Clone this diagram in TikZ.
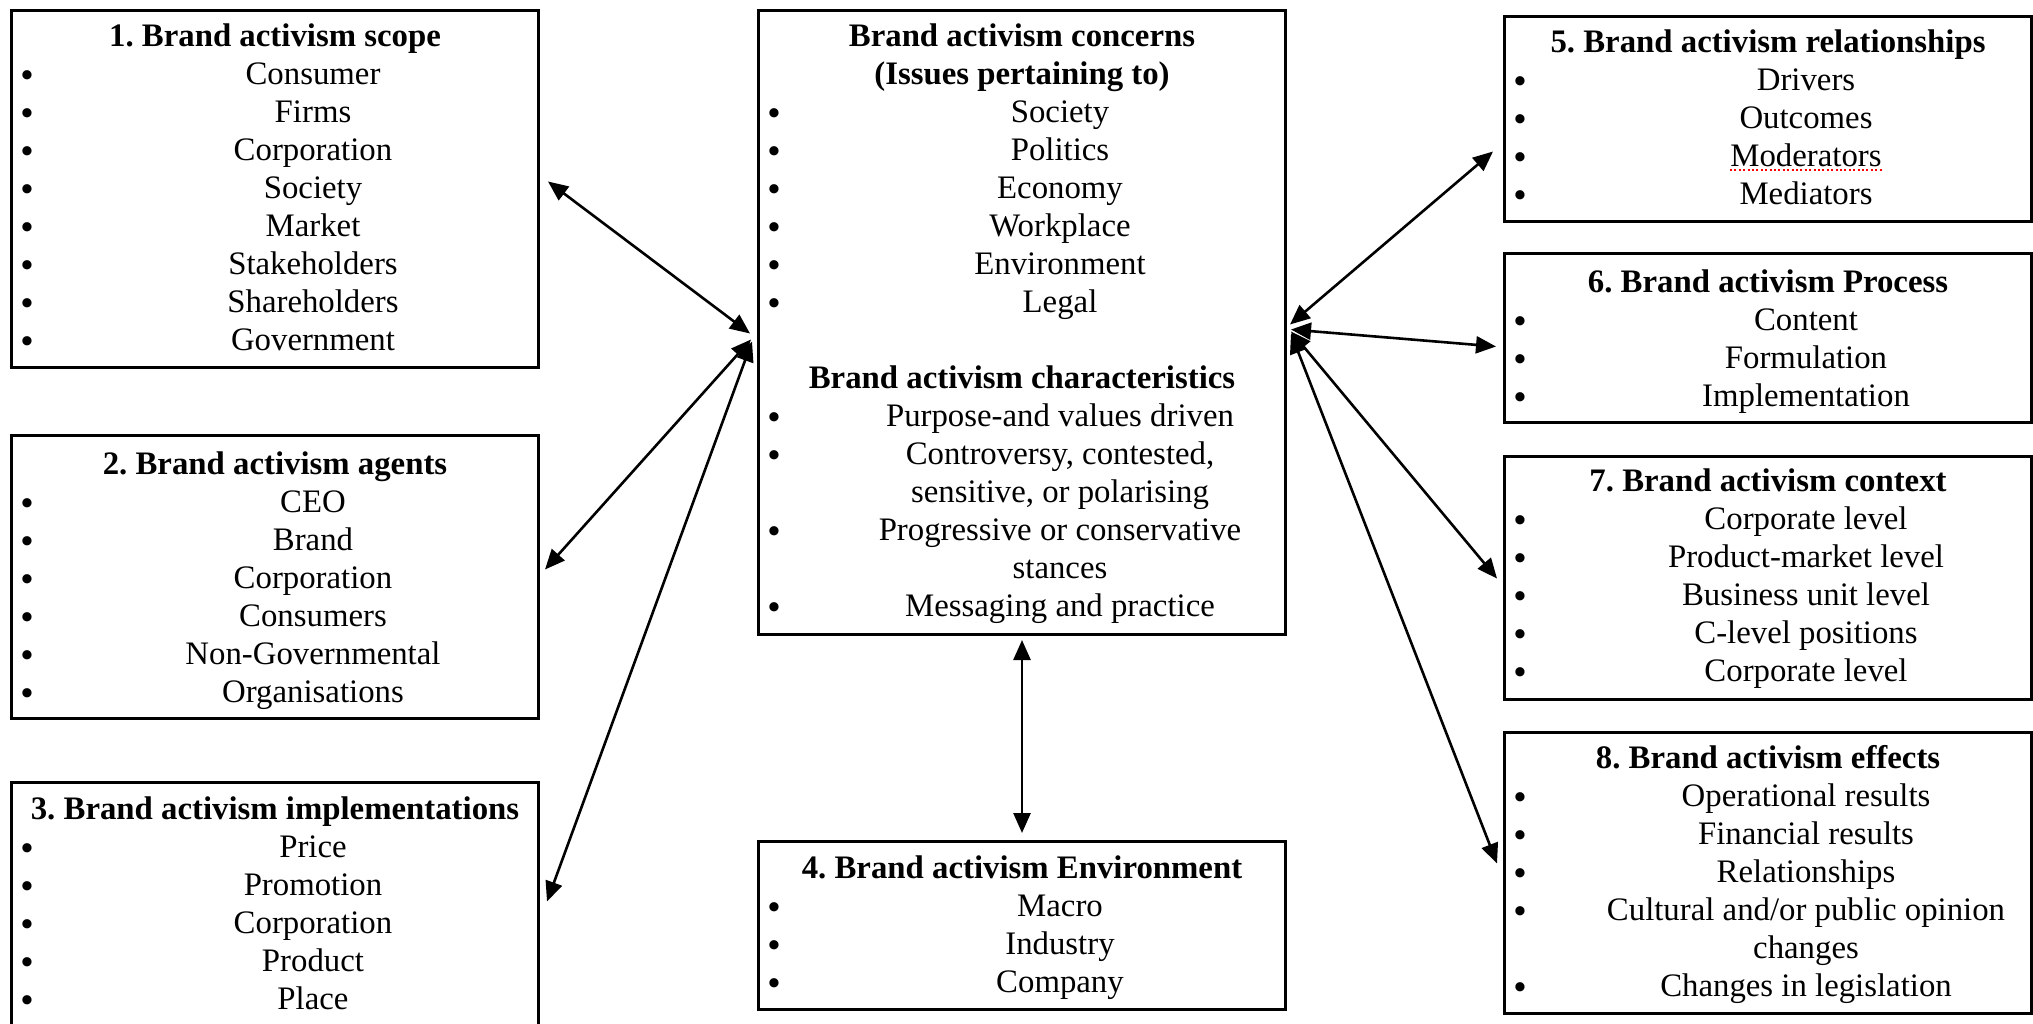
\documentclass[tikz,border=0pt]{standalone}
\usepackage{fontspec}
\setmainfont{Liberation Serif}
\usetikzlibrary{arrows.meta,calc}

\tikzset{
  panel/.style={draw=black, line width=1.5pt, rectangle, inner sep=0pt, anchor=north west},
  head/.style={font=\fontsize{16.4}{19}\selectfont\bfseries\frenchspacing, anchor=base, inner sep=0pt},
  entry/.style={font=\fontsize{16.4}{19}\selectfont, anchor=base, inner sep=0pt},
  dot/.style={font=\fontsize{17}{19}\selectfont\bfseries, anchor=base, inner sep=0pt},
  link/.style={line width=1.3pt, {Triangle[length=10pt,width=8.5pt]}-{Triangle[length=10pt,width=8.5pt]}},
  squiggle/.style={red, line width=0.8pt, dash pattern=on 1pt off 1.2pt},
}

% heading line of a panel: name, panel, offset of the line from the panel top, text
\newcommand\panelhead[4]{\node[head] (#1) at ($(#2.north)+(0,#3+10)$) {#4};}
% list line without bullet: name, panel, offset, text
\newcommand\panelline[4]{\node[entry] (#1) at ($(#2.north west)+(303,#3+10)$) {#4};}
% bulleted list line: name, panel, offset, text
\newcommand\panelitem[4]{%
  \node[dot] (#1-dot) at ($(#2.north west)+(17,#3+12)$) {•};
  \node[entry] (#1) at ($(#2.north west)+(303,#3+10)$) {#4};}

\begin{document}
\begin{tikzpicture}[x=0.5pt,y=-0.5pt]
\useasboundingbox (0,0) rectangle (2033,1023);
\clip (0,0) rectangle (2033,1023);

% ---------- panels ----------
\node[panel, minimum width=263.5pt, minimum height=178.5pt] (b1) at (10,9) {};
\node[panel, minimum width=263.5pt, minimum height=141.5pt] (b2) at (10,434) {};
\node[panel, minimum width=263.5pt, minimum height=129.5pt] (b3) at (10,781) {};
\node[panel, minimum width=263.5pt, minimum height=312pt]   (c)  at (757,9) {};
\node[panel, minimum width=263.5pt, minimum height=84pt]    (b4) at (757,840) {};
\node[panel, minimum width=263.5pt, minimum height=102.5pt] (b5) at (1503,15) {};
\node[panel, minimum width=263.5pt, minimum height=84.5pt]  (b6) at (1503,252) {};
\node[panel, minimum width=263.5pt, minimum height=121.5pt] (b7) at (1503,455) {};
\node[panel, minimum width=263.5pt, minimum height=140.5pt] (b8) at (1503,731) {};

% ---------- 1. scope ----------
\panelhead{b1-h}{b1}{27}{1. Brand activism scope}
\panelitem{b1-t0}{b1}{65}{Consumer}
\panelitem{b1-t1}{b1}{103}{Firms}
\panelitem{b1-t2}{b1}{141}{Corporation}
\panelitem{b1-t3}{b1}{179}{Society}
\panelitem{b1-t4}{b1}{217}{Market}
\panelitem{b1-t5}{b1}{255}{Stakeholders}
\panelitem{b1-t6}{b1}{293}{Shareholders}
\panelitem{b1-t7}{b1}{331}{Government}

% ---------- 2. agents ----------
\panelhead{b2-h}{b2}{30}{2. Brand activism agents}
\panelitem{b2-t0}{b2}{68}{CEO}
\panelitem{b2-t1}{b2}{106}{Brand}
\panelitem{b2-t2}{b2}{144}{Corporation}
\panelitem{b2-t3}{b2}{182}{Consumers}
\panelitem{b2-t4}{b2}{220}{Non-Governmental}
\panelitem{b2-t5}{b2}{258}{Organisations}

% ---------- 3. implementations ----------
\panelhead{b3-h}{b3}{28}{3. Brand activism implementations}
\panelitem{b3-t0}{b3}{66}{Price}
\panelitem{b3-t1}{b3}{104}{Promotion}
\panelitem{b3-t2}{b3}{142}{Corporation}
\panelitem{b3-t3}{b3}{180}{Product}
\panelitem{b3-t4}{b3}{218}{Place}

% ---------- central panel ----------
\panelhead{c-h1}{c}{27}{Brand activism concerns}
\panelhead{c-h2}{c}{65}{(Issues pertaining to)}
\panelitem{c-t0}{c}{103}{Society}
\panelitem{c-t1}{c}{141}{Politics}
\panelitem{c-t2}{c}{179}{Economy}
\panelitem{c-t3}{c}{217}{Workplace}
\panelitem{c-t4}{c}{255}{Environment}
\panelitem{c-t5}{c}{293}{Legal}
\panelhead{c-h3}{c}{369}{Brand activism characteristics}
\panelitem{c-u0}{c}{407}{Purpose-and values driven}
\panelitem{c-u1}{c}{445}{Controversy, contested,}
\panelline{c-u2}{c}{483}{sensitive, or polarising}
\panelitem{c-u3}{c}{521}{Progressive or conservative}
\panelline{c-u4}{c}{559}{stances}
\panelitem{c-u5}{c}{597}{Messaging and practice}

% ---------- 4. environment ----------
\panelhead{b4-h}{b4}{28}{4. Brand activism Environment}
\panelitem{b4-t0}{b4}{66}{Macro}
\panelitem{b4-t1}{b4}{104}{Industry}
\panelitem{b4-t2}{b4}{142}{Company}

% ---------- 5. relationships ----------
\panelhead{b5-h}{b5}{27}{5. Brand activism relationships}
\panelitem{b5-t0}{b5}{65}{Drivers}
\panelitem{b5-t1}{b5}{103}{Outcomes}
\panelitem{b5-t2}{b5}{141}{Moderators}
\panelitem{b5-t3}{b5}{179}{Mediators}
\draw[squiggle] ($(b5-t2.base west)+(0,4)$) -- ($(b5-t2.base east)+(0,4)$);

% ---------- 6. process ----------
\panelhead{b6-h}{b6}{30}{6. Brand activism Process}
\panelitem{b6-t0}{b6}{68}{Content}
\panelitem{b6-t1}{b6}{106}{Formulation}
\panelitem{b6-t2}{b6}{144}{Implementation}

% ---------- 7. context ----------
\panelhead{b7-h}{b7}{26}{7. Brand activism context}
\panelitem{b7-t0}{b7}{64}{Corporate level}
\panelitem{b7-t1}{b7}{102}{Product-market level}
\panelitem{b7-t2}{b7}{140}{Business unit level}
\panelitem{b7-t3}{b7}{178}{C-level positions}
\panelitem{b7-t4}{b7}{216}{Corporate level}

% ---------- 8. effects ----------
\panelhead{b8-h}{b8}{27}{8. Brand activism effects}
\panelitem{b8-t0}{b8}{65}{Operational results}
\panelitem{b8-t1}{b8}{103}{Financial results}
\panelitem{b8-t2}{b8}{141}{Relationships}
\panelitem{b8-t3}{b8}{179}{Cultural and/or public opinion}
\panelline{b8-t4}{b8}{217}{changes}
\panelitem{b8-t5}{b8}{255}{Changes in legislation}

% ---------- two-way connectors ----------
\draw[link] ($(b1.east)+(8,-7.5)$)  -- ($(c.west)+(-7,11)$);
\draw[link] ($(b2.east)+(5,-7.5)$)  -- ($(c.west)+(-6,17)$);
\draw[link] ($(b3.east)+(7,-10.5)$) -- ($(c.west)+(-5,19)$);
\draw[link] ($(c.east)+(3,2)$)  -- ($(b5.west)+(-10,32.5)$);
\draw[link] ($(c.east)+(4,7)$)  -- ($(b6.west)+(-7,8.5)$);
\draw[link] ($(c.east)+(4,9)$)  -- ($(b7.west)+(-6,0.5)$);
\draw[link] ($(c.east)+(4,11)$) -- ($(b8.west)+(-6,-9.5)$);
\draw[link] ($(c.south)+(0,4)$) -- ($(b4.north)+(0,-7)$);
\end{tikzpicture}
\end{document}
